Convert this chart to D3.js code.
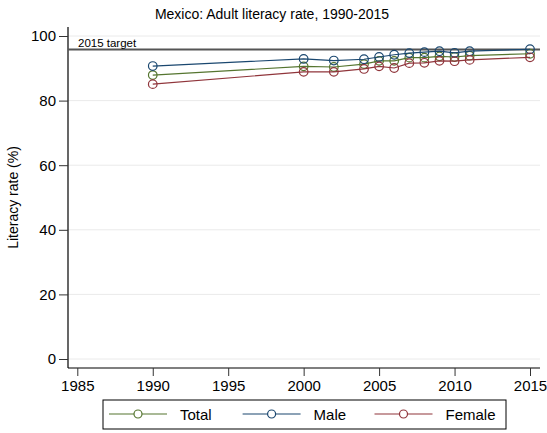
<!DOCTYPE html>
<html>
<head>
<meta charset="utf-8">
<script src="https://cdn.jsdelivr.net/npm/d3@7"></script>
<style>
  body { margin: 0; background: #fff; }
  text { font-family: "Liberation Sans", Arial, sans-serif; fill: #000; }
</style>
</head>
<body>
<svg id="chart" width="547" height="433"></svg>
<script>
const years = [1990, 2000, 2002, 2004, 2005, 2006, 2007, 2008, 2009, 2010, 2011, 2015];
const total = [87.9, 90.6, 90.4, 91.3, 92.3, 92.3, 93.3, 93.3, 93.7, 93.5, 93.9, 94.5];
const male = [90.7, 92.9, 92.4, 92.8, 93.5, 94.2, 94.7, 95.0, 95.3, 94.8, 95.3, 95.9];
const female = [85.1, 88.9, 88.9, 89.8, 90.6, 90.1, 91.6, 91.7, 92.3, 92.2, 92.6, 93.4];
const target = 95.8;
const xTicks = [1985, 1990, 1995, 2000, 2005, 2010, 2015];
const yTicks = [0, 20, 40, 60, 80, 100];

const seriesNames = ['Total', 'Male', 'Female'];
const seriesColors = ['#55752f', '#1a476f', '#90353b'];
const seriesValues = [total, male, female];

const svg = d3.select('#chart');

const plot = { left: 68, right: 540, top: 27, bottom: 368 };

const x = d3.scaleLinear()
  .domain([1985, 2015])
  .range([77.3, 530]);

const y = d3.scaleLinear()
  .domain([0, 100])
  .range([359, 36]);

// title
svg.append('text')
  .attr('x', 272)
  .attr('y', 19)
  .attr('text-anchor', 'middle')
  .style('font-size', '14px')
  .text('Mexico: Adult literacy rate, 1990-2015');

// gridlines
svg.append('g')
  .selectAll('line')
  .data(yTicks)
  .enter()
  .append('line')
  .attr('x1', plot.left)
  .attr('x2', plot.right)
  .attr('y1', d => y(d))
  .attr('y2', d => y(d))
  .attr('stroke', '#eaeaea')
  .attr('stroke-width', 1);

// y axis
const yAxis = svg.append('g')
  .attr('transform', `translate(${plot.left},0)`)
  .call(d3.axisLeft(y).tickValues(yTicks).tickSize(9).tickPadding(3));
yAxis.select('.domain')
  .attr('d', `M0,${plot.top}V${plot.bottom}`)
  .attr('stroke', '#000')
  .attr('stroke-width', 1.2);
yAxis.selectAll('.tick line').attr('stroke', '#333');
yAxis.selectAll('.tick text')
  .style('font-size', '15px')
  .style('font-family', '"Liberation Sans", Arial, sans-serif');

// x axis
const xAxis = svg.append('g')
  .attr('transform', `translate(0,${plot.bottom})`)
  .call(d3.axisBottom(x).tickValues(xTicks).tickFormat(d3.format('d')).tickSize(8).tickPadding(4));
xAxis.select('.domain')
  .attr('d', `M${plot.left},0H${plot.right}`)
  .attr('stroke', '#000')
  .attr('stroke-width', 1.2);
xAxis.selectAll('.tick line').attr('stroke', '#333');
xAxis.selectAll('.tick text')
  .style('font-size', '15px')
  .style('font-family', '"Liberation Sans", Arial, sans-serif');

// y axis title
svg.append('text')
  .attr('transform', `translate(18,${(plot.top + plot.bottom) / 2}) rotate(-90)`)
  .attr('text-anchor', 'middle')
  .style('font-size', '14px')
  .text('Literacy rate (%)');

// target line
svg.append('line')
  .attr('x1', plot.left)
  .attr('x2', plot.right)
  .attr('y1', y(target))
  .attr('y2', y(target))
  .attr('stroke', '#555')
  .attr('stroke-width', 2);

svg.append('text')
  .attr('x', 78)
  .attr('y', y(target) - 3)
  .style('font-size', '11.5px')
  .text('2015 target');

// series
const line = d3.line()
  .x((d, i) => x(years[i]))
  .y(d => y(d));

seriesValues.forEach((vals, k) => {
  const g = svg.append('g').attr('class', 'series');
  g.append('path')
    .attr('d', line(vals))
    .attr('fill', 'none')
    .attr('stroke', seriesColors[k])
    .attr('stroke-width', 1.2);
  g.selectAll('circle')
    .data(vals)
    .enter()
    .append('circle')
    .attr('cx', (d, i) => x(years[i]))
    .attr('cy', d => y(d))
    .attr('r', 4.3)
    .attr('fill', 'none')
    .attr('stroke', seriesColors[k])
    .attr('stroke-width', 1.2);
});

// legend
const legend = svg.append('g');
legend.append('rect')
  .attr('x', 103)
  .attr('y', 400)
  .attr('width', 403)
  .attr('height', 29)
  .attr('fill', '#fff')
  .attr('stroke', '#000')
  .attr('stroke-width', 1);

const legendX = [109, 242.6, 374.5];
seriesNames.forEach((name, k) => {
  const lx = legendX[k];
  legend.append('line')
    .attr('x1', lx)
    .attr('x2', lx + 58)
    .attr('y1', 414)
    .attr('y2', 414)
    .attr('stroke', seriesColors[k])
    .attr('stroke-width', 1.2);
  legend.append('circle')
    .attr('cx', lx + 29)
    .attr('cy', 414)
    .attr('r', 4)
    .attr('fill', '#fff')
    .attr('stroke', seriesColors[k])
    .attr('stroke-width', 1.2);
  legend.append('text')
    .attr('x', lx + 71)
    .attr('y', 419.5)
    .style('font-size', '15px')
    .text(name);
});
</script>
</body>
</html>
